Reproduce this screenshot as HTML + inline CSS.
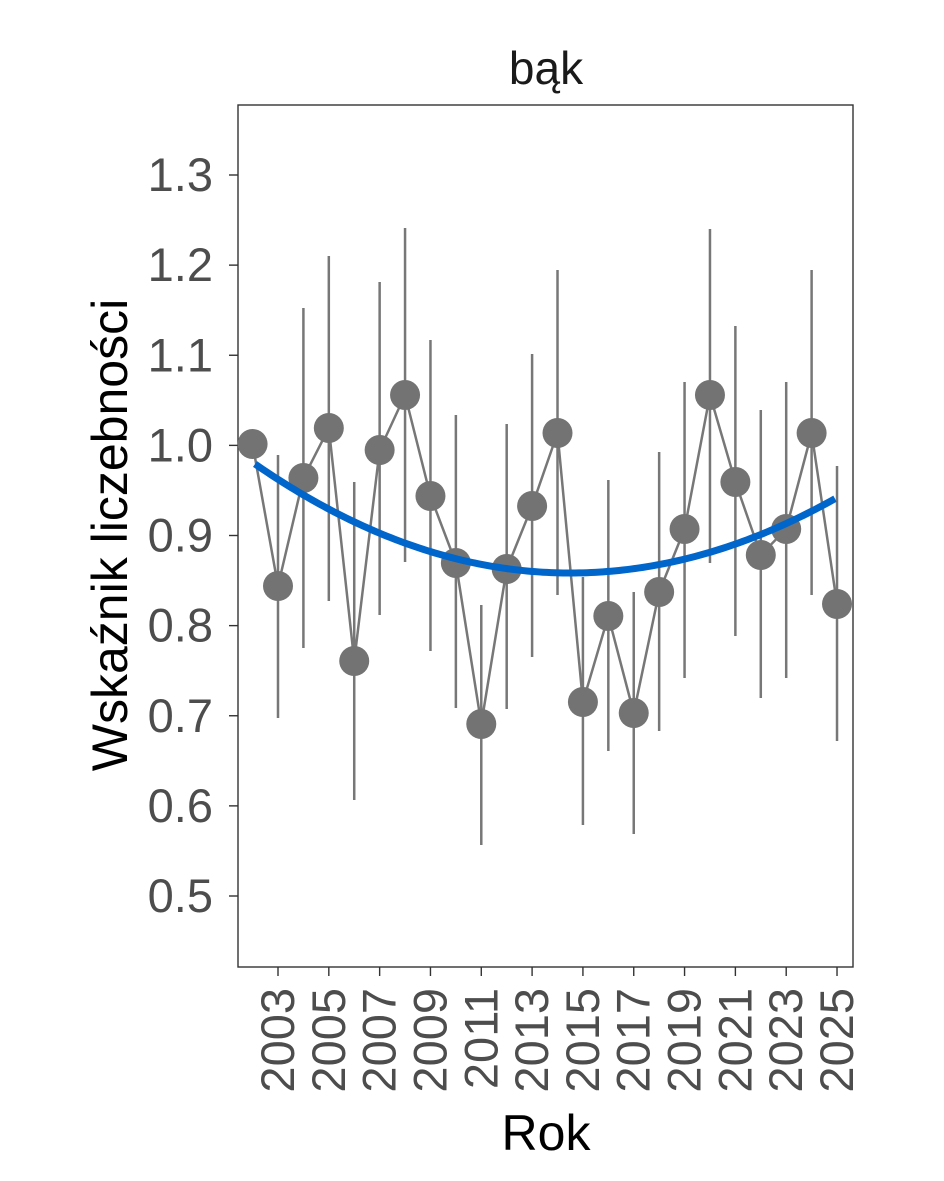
<!DOCTYPE html>
<html><head><meta charset="utf-8"><style>body{margin:0;background:#fff}svg{display:block}text{font-family:"Liberation Sans",Arial,sans-serif}</style></head>
<body>
<svg width="944" height="1181" viewBox="0 0 944 1181">
<rect width="944" height="1181" fill="#fff"/>
<rect x="238" y="105" width="615" height="862" fill="none" stroke="#333" stroke-width="1.4"/>
<text x="546" y="84" font-size="46" text-anchor="middle" fill="#1a1a1a">bąk</text>
<text x="546" y="1150" font-size="50" text-anchor="middle" fill="#000">Rok</text>
<text transform="translate(127,535) rotate(-90)" font-size="50" text-anchor="middle" fill="#000">Wskaźnik liczebności</text>
<script>
var ns="http://www.w3.org/2000/svg",s=document.querySelector('svg');
function el(t,a,p){var e=document.createElementNS(ns,t);for(var k in a)e.setAttribute(k,a[k]);(p||s).appendChild(e);return e;}
function Y(v){return 175+(1.3-v)*901.25;}
function X(y){return 278+(y-2003)*25.41;}
for(var v=0.5;v<=1.31;v+=0.1){var y=Y(v);el('line',{x1:229,x2:238,y1:y,y2:y,stroke:'#333','stroke-width':1.4});var t=el('text',{x:213,y:y+16,'font-size':47,fill:'#4d4d4d','text-anchor':'end'});t.textContent=v.toFixed(1);}
for(var yr=2003;yr<=2025;yr+=2){var x=X(yr);el('line',{x1:x,x2:x,y1:967,y2:976,stroke:'#333','stroke-width':1.4});var t=el('text',{transform:'translate('+(x+16)+',988) rotate(-90)','font-size':47,fill:'#4d4d4d','text-anchor':'end'});t.textContent=yr;}
var d=[[2002,444],[2003,586,455,718],[2004,478,308,648],[2005,428,256,601],[2006,661,482,800],[2007,450,282,615],[2008,395,228,562],[2009,496,340,651],[2010,563,415,708],[2011,724,605,845],[2012,569,424,709],[2013,506,354,657],[2014,433,270,595],[2015,702,577,825],[2016,616,480,751],[2017,713,592,834],[2018,592,452,731],[2019,529,382,678],[2020,395,229,563],[2021,482,326,636],[2022,555,410,698],[2023,529,382,678],[2024,433,270,595],[2025,604,466,741]];
var pts=[];d.forEach(function(p){var x=X(p[0]);pts.push(x+','+p[1]);if(p[2])el('line',{x1:x,x2:x,y1:p[2],y2:p[3],stroke:'#777','stroke-width':2.5});});
el('polyline',{points:pts.join(' '),fill:'none',stroke:'#777','stroke-width':2.5});
d.forEach(function(p){el('circle',{cx:X(p[0]),cy:p[1],r:15,fill:'#737373'});});
var tp=[];for(var x=255;x<=838;x+=4){var a=(464-573)/((255-570)*(255-570));var a2=(497-573)/((838-570)*(838-570));var aa=x<570?a:a2;tp.push(x+','+(573+aa*(x-570)*(x-570)));}
el('polyline',{points:tp.join(' '),fill:'none',stroke:'#0066cc','stroke-width':7});
</script>
</svg>
</body></html>
